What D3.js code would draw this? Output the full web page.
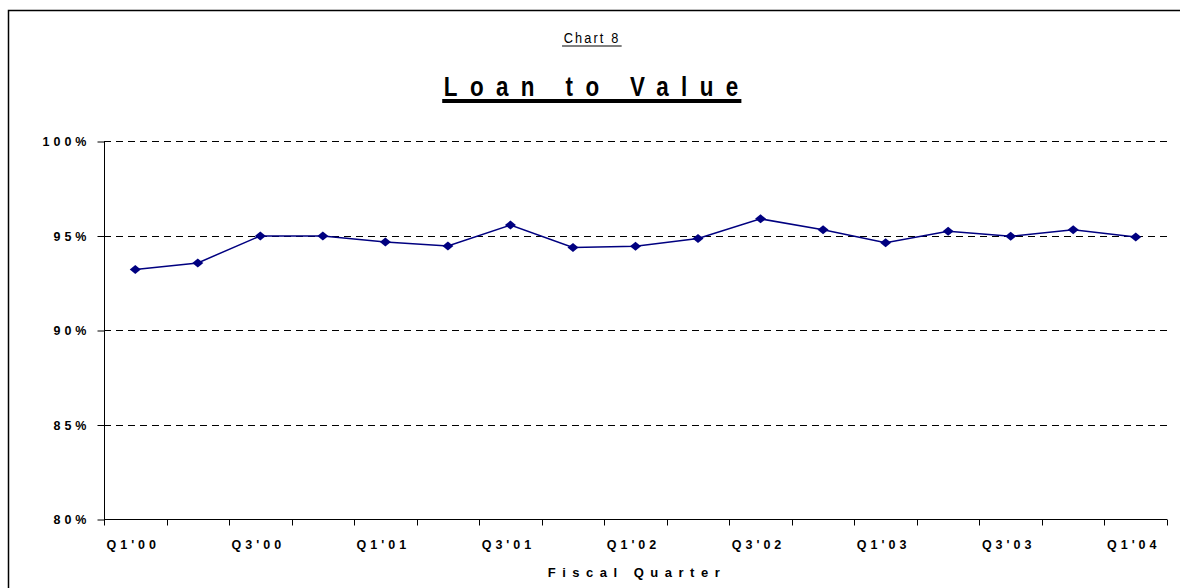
<!DOCTYPE html>
<html>
<head>
<meta charset="utf-8">
<script src="https://cdn.jsdelivr.net/npm/d3@7"></script>
<style>
  body { margin: 0; background: #fff; }
  text { font-family: "Liberation Sans", Arial, sans-serif; }
</style>
</head>
<body>
<div id="chart"></div>
<script>
// data
const quarters = ["Q1'00","Q2'00","Q3'00","Q4'00","Q1'01","Q2'01","Q3'01","Q4'01",
                  "Q1'02","Q2'02","Q3'02","Q4'02","Q1'03","Q2'03","Q3'03","Q4'03","Q1'04"];
const ltv = [93.2, 93.55, 94.98, 94.97, 94.65, 94.45, 95.55, 94.37, 94.43, 94.84,
             95.88, 95.3, 94.62, 95.22, 94.96, 95.3, 94.92];
const yTicks = [80, 85, 90, 95, 100];

function chart(id) {
    const width = 1180;
    const height = 588;
    const margin = {top: 141, right: 13, bottom: 69, left: 104};
    const ls = 4; // letter spacing of axis labels

    const svg = d3.select(id).append("svg")
        .attr("width", width)
        .attr("height", height)
        .attr("viewBox", [0, 0, width, height]);

    // outer frame (runs off right and bottom)
    svg.append("rect")
        .attr("x", 8.5).attr("y", 10.5)
        .attr("width", width + 20).attr("height", height + 20)
        .attr("fill", "none").attr("stroke", "#000").attr("stroke-width", 1.5);

    const x = d3.scaleBand()
        .domain(quarters)
        .range([margin.left, width - margin.right]);

    const y = d3.scaleLinear()
        .domain([80, 100])
        .range([height - margin.bottom, margin.top]);

    // gridlines
    svg.append("g")
        .selectAll("line")
        .data(yTicks.filter(d => d > 80))
        .join("line")
            .attr("x1", margin.left)
            .attr("x2", width - margin.right)
            .attr("y1", d => Math.round(y(d)) + 0.5)
            .attr("y2", d => Math.round(y(d)) + 0.5)
            .attr("stroke", "#000")
            .attr("stroke-dasharray", "7,5");

    // y axis
    const yAxis = svg.append("g")
        .attr("transform", `translate(${margin.left + 0.5},0.5)`)
        .call(d3.axisLeft(y).tickValues(yTicks).tickSize(7).tickPadding(11)
            .tickFormat(d => d + "%"));
    yAxis.select(".domain").attr("d", `M0,${y(100)}V${y(80)}`).attr("stroke", "#000");
    yAxis.selectAll(".tick line").attr("stroke", "#000");
    yAxis.selectAll(".tick text")
        .attr("font-size", 12.5)
        .attr("font-weight", "bold")
        .attr("letter-spacing", ls + "px")
        .attr("dx", ls)
        .attr("fill", "#000");

    // x axis - ticks between categories, labels on every other one
    const bounds = quarters.map(q => x(q)).concat([x.range()[1]]);
    const xg = svg.append("g").attr("transform", `translate(0,${Math.round(y(80)) + 0.5})`);
    xg.append("line")
        .attr("x1", margin.left).attr("x2", width - margin.right)
        .attr("stroke", "#000");
    xg.selectAll(".xt")
        .data(bounds)
        .join("line")
            .attr("class", "xt")
            .attr("x1", d => Math.round(d) + 0.5)
            .attr("x2", d => Math.round(d) + 0.5)
            .attr("y2", 6)
            .attr("stroke", "#000");
    xg.selectAll(".xl")
        .data(quarters.filter((d, i) => i % 2 == 0))
        .join("text")
            .attr("class", "xl")
            .attr("x", d => x(d) + x.bandwidth() / 2 - 4 + ls / 2)
            .attr("y", 29)
            .attr("text-anchor", "middle")
            .attr("font-size", 12.5)
            .attr("font-weight", "bold")
            .attr("letter-spacing", ls + "px")
            .text(d => d);

    // axis title
    svg.append("text")
        .attr("x", (margin.left + width - margin.right) / 2 - 2 + 3.5)
        .attr("y", 577)
        .attr("text-anchor", "middle")
        .attr("font-size", 13)
        .attr("font-weight", "bold")
        .attr("letter-spacing", "6.5px")
        .text("Fiscal Quarter");

    // titles with underline
    function underlined(txt, yPos, size, weight, spacing, sx, lineW, gap) {
        const g = svg.append("g").attr("transform", `translate(591,${yPos}) scale(${sx},1)`);
        const t = g.append("text")
            .attr("x", spacing / 2)
            .attr("text-anchor", "middle")
            .attr("font-size", size)
            .attr("font-weight", weight)
            .attr("letter-spacing", spacing + "px")
            .text(txt);
        const b = t.node().getBBox();
        g.append("line")
            .attr("x1", b.x - 2)
            .attr("x2", b.x + b.width - spacing + 4)
            .attr("y1", gap).attr("y2", gap)
            .attr("stroke", "#000")
            .attr("stroke-width", lineW);
    }
    underlined("Chart 8", 43, 15, "normal", 2.5, 0.85, 1.2, 3);
    underlined("Loan to Value", 96, 28, "bold", 15.5, 0.8, 4, 5);

    // series line
    const line = d3.line()
        .x((d, i) => x(quarters[i]) + x.bandwidth() / 2)
        .y(d => y(d));

    svg.append("path")
        .datum(ltv)
        .attr("fill", "none")
        .attr("stroke", "#000080")
        .attr("stroke-width", 1.5)
        .attr("d", line);

    svg.append("g")
        .selectAll("path")
        .data(ltv)
        .join("path")
            .attr("d", "M0,-4.5L5.5,0L0,4.5L-5.5,0Z")
            .attr("fill", "#000080")
            .attr("transform", (d, i) => `translate(${x(quarters[i]) + x.bandwidth() / 2},${y(d)})`);

    return svg.node();
}

chart("#chart");
</script>
</body>
</html>
